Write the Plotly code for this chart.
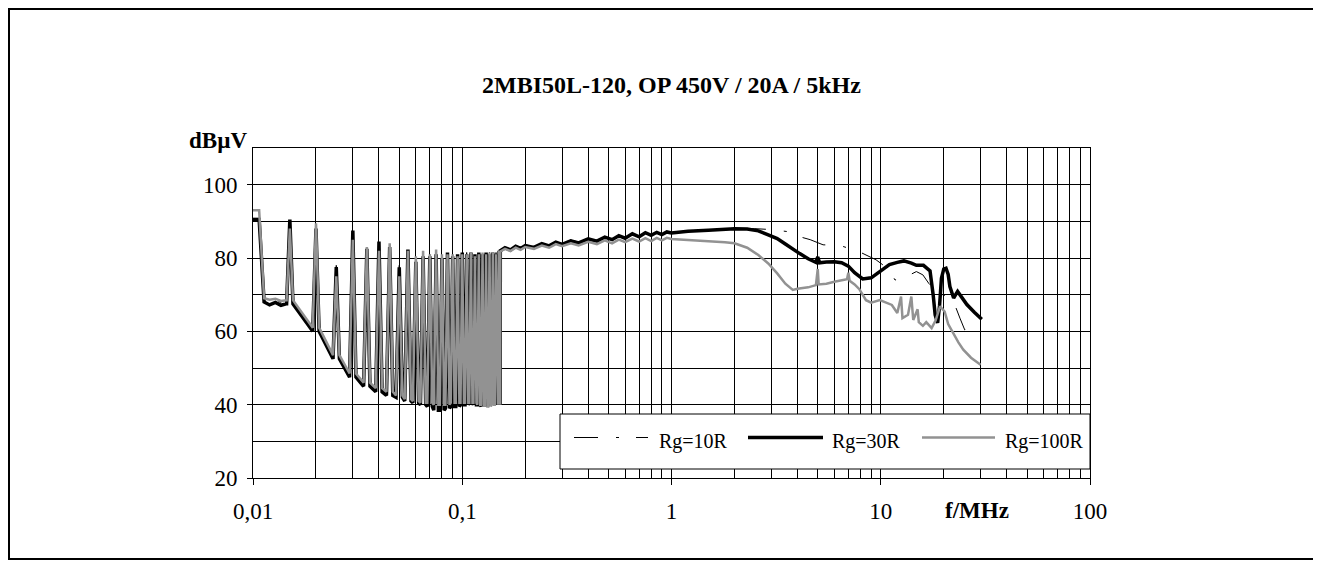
import plotly.graph_objects as go

# ---------------- data ----------------
title_text = "2MBI50L-120, OP 450V / 20A / 5kHz"
y_title = "dBµV"
x_title = "f/MHz"
x_tickvals = [0.01, 0.1, 1, 10, 100]
x_ticktext = ["0,01", "0,1", "1", "10", "100"]
y_tickvals = [20, 40, 60, 80, 100]
y_minor = [30, 50, 70, 90, 110]
series_names = ["Rg=10R", "Rg=30R", "Rg=100R"]

# initial plateau (MHz, dBµV)
start_f = [0.0100, 0.0107, 0.0113, 0.0120, 0.0128, 0.0136, 0.0144]
start_10 = [90.8, 90.8, 68.3, 67.8, 68.4, 67.9, 68.0]
start_30 = [90.5, 90.5, 68.0, 67.2, 67.9, 67.1, 67.5]
start_100 = [93.0, 93.0, 69.0, 68.6, 68.9, 68.3, 68.5]

# switching harmonics (kHz) with peak and floor levels
harm_khz = [15, 20, 25, 30, 35, 40, 45, 50, 55, 60, 65, 70, 75, 80,
            85, 90, 95, 100, 105, 110, 115, 120, 125, 130, 135, 140, 145, 150]
peak_10 = [89.5, 88.5, 78.0, 86.5, 83.0, 84.0, 83.5, 78.0, 82.0, 80.0, 81.0, 81.0, 81.0, 80.5,
           81.0, 81.0, 81.0, 81.0, 81.5, 81.0, 81.5, 81.0, 81.5, 81.0, 81.5, 81.0, 81.5, 82.0]
low_10 = [68.0, 60.5, 53.0, 48.0, 45.5, 44.0, 43.0, 42.5, 41.5, 41.0, 40.5, 40.0, 39.5, 39.5,
          40.0, 40.0, 40.0, 40.5, 40.5, 40.5, 40.5, 40.0, 40.0, 40.0, 40.5, 40.5, 40.5, 40.5]
peak_30 = [90.5, 88.0, 77.5, 87.5, 82.5, 84.5, 83.0, 77.5, 82.3, 79.0, 80.5, 80.5, 81.0, 80.0,
           81.5, 80.5, 81.0, 81.5, 81.0, 81.5, 81.0, 81.5, 81.0, 81.5, 81.0, 81.5, 81.0, 82.0]
low_30 = [67.5, 60.0, 52.5, 47.5, 45.0, 43.5, 42.5, 42.0, 41.0, 40.5, 40.0, 39.5, 38.5, 38.5,
          39.0, 39.5, 39.5, 40.0, 40.0, 40.5, 40.0, 40.0, 39.5, 39.5, 40.0, 40.0, 40.0, 40.0]
peak_100 = [88.0, 89.5, 75.0, 85.0, 83.0, 82.0, 84.0, 75.0, 82.0, 80.5, 82.0, 81.0, 82.3, 81.0,
            81.0, 81.0, 80.5, 81.0, 81.0, 81.5, 80.5, 81.0, 81.5, 81.0, 81.5, 81.5, 81.0, 82.0]
low_100 = [68.5, 61.0, 53.5, 48.5, 46.0, 44.5, 43.5, 42.5, 41.5, 41.0, 40.5, 40.5, 40.0, 40.0,
           40.0, 40.5, 40.5, 40.5, 40.5, 40.5, 40.5, 40.0, 40.0, 39.5, 39.5, 40.0, 40.0, 40.0]

# broadband part (MHz, dBµV)
hf_f_10 = [0.152, 0.16, 0.17, 0.18, 0.19, 0.2, 0.22, 0.24, 0.26, 0.28, 0.3, 0.33, 0.36, 0.4,
           0.44, 0.48, 0.52, 0.56, 0.6, 0.65, 0.7, 0.75, 0.8, 0.85, 0.9, 0.95, 1.0, 1.5, 2.0,
           2.5, 2.9, 3.6, 4.1, 4.6, 5.3, 6.4, 7.9, 9.5, 11.0, 11.7, 12.9, 14.8, 15.9, 17.0,
           18.5, 20.0, 22.6, 23.9, 25.2, 28.2, 30.0]
hf_db_10 = [82.2, 83.0, 82.4, 83.4, 82.8, 83.6, 83.1, 84.1, 83.5, 84.5, 83.9, 84.9, 84.3, 85.4,
            84.8, 85.9, 85.2, 86.3, 85.6, 86.8, 86.0, 87.0, 86.4, 87.1, 86.6, 87.2, 87.0, 87.6, 88.0,
            88.0, 87.8, 87.2, 85.8, 85.0, 83.6, 83.4, 81.7, 79.5, 76.8, 74.0, 74.6, 76.3, 75.4, 73.0,
            70.0, 70.0, 67.2, 63.6, 60.4, 61.8, 63.0]
hf_f_30 = [0.152, 0.16, 0.17, 0.18, 0.19, 0.2, 0.22, 0.24, 0.26, 0.28, 0.3, 0.33, 0.36, 0.4,
           0.44, 0.48, 0.52, 0.56, 0.6, 0.65, 0.7, 0.75, 0.8, 0.85, 0.9, 0.95, 1.0, 1.2, 1.5,
           1.8, 2.0, 2.3, 2.6, 2.9, 3.2, 3.5, 3.8, 4.1, 4.5, 4.9, 5.0, 5.1, 5.5, 6.0, 6.5, 7.0,
           7.5, 8.2, 9.0, 10.0, 11.0, 12.0, 12.9, 14.0, 14.8, 16.0, 17.2, 17.8, 18.2, 18.7,
           19.1, 19.5, 20.0, 20.5, 21.0, 21.4, 22.3, 23.3, 24.5, 25.8, 28.0, 30.4]
hf_db_30 = [82.0, 82.8, 82.2, 83.2, 82.6, 83.4, 82.9, 83.9, 83.3, 84.3, 83.7, 84.7, 84.1, 85.2,
            84.6, 85.7, 85.0, 86.1, 85.4, 86.6, 85.8, 86.9, 86.2, 87.0, 86.4, 87.1, 86.8, 87.3, 87.6,
            87.9, 88.0, 87.9, 87.4, 86.3, 85.3, 83.8, 82.3, 81.2, 79.8, 78.8, 80.3, 78.7, 78.9, 79.0,
            78.7, 77.8, 76.0, 74.3, 74.6, 76.5, 78.2, 78.8, 79.2, 78.6, 78.0, 78.0, 76.5, 70.0, 64.5,
            62.3, 67.0, 74.5, 77.0, 77.2, 75.5, 72.2, 69.1, 70.9, 69.3, 67.3, 65.2, 63.3]
hf_f_100 = [0.152, 0.16, 0.17, 0.18, 0.19, 0.2, 0.22, 0.24, 0.26, 0.28, 0.3, 0.33, 0.36, 0.4,
            0.44, 0.48, 0.52, 0.56, 0.6, 0.65, 0.7, 0.75, 0.8, 0.85, 0.9, 0.95, 1.0, 1.2, 1.5,
            1.8, 2.0, 2.3, 2.6, 2.9, 3.2, 3.5, 3.8, 4.0, 4.5, 4.9, 5.0, 5.05, 5.5, 6.0, 6.5, 6.9,
            7.0, 7.1, 7.5, 7.9, 8.5, 9.0, 9.9, 10.5, 11.3, 12.0, 12.5, 12.7, 13.5, 14.0, 14.3,
            15.0, 15.2, 15.9, 16.5, 17.5, 18.3, 19.2, 20.2, 21.0, 22.2, 23.5, 24.8, 27.0, 30.0]
hf_db_100 = [81.8, 82.5, 81.9, 82.8, 82.2, 83.0, 82.5, 83.4, 82.8, 83.8, 83.2, 84.0, 83.4, 84.4,
             83.8, 84.8, 84.0, 85.0, 84.3, 85.3, 84.5, 85.4, 84.6, 85.5, 84.8, 85.5, 85.2, 85.0, 84.6,
             84.3, 84.0, 82.8, 80.8, 78.5, 75.8, 73.0, 71.3, 71.6, 72.0, 72.6, 77.0, 72.8, 73.0, 73.5,
             73.8, 74.2, 76.0, 73.8, 72.8, 71.5, 68.5, 67.8, 68.5, 68.0, 67.2, 65.0, 69.5, 63.6, 64.5,
             69.5, 63.1, 66.0, 62.5, 61.5, 62.5, 60.9, 63.0, 66.8, 65.4, 62.0, 59.5, 57.0, 55.0, 52.8,
             50.9]

# ---------------- layout geometry (screen pixels) ----------------
OFF = 8                      # page body margin
W, H = 1321 - OFF, 565 - OFF
PL, PR, PT, PB = 253, 1090, 148, 478   # plot area edges on screen
FONT = "Liberation Serif, Times New Roman, serif"


def px(xp):
    return (xp - PL) / (PR - PL)


def py(yp):
    return (PB - yp) / (PB - PT)


def build(sf, sdb, peaks, lows, hf, hdb):
    xs, ys = list(sf), list(sdb)
    for h, p, lo in zip(harm_khz, peaks, lows):
        f = h / 1000.0
        w = min(0.035 * f, 0.0019)
        xs += [f - w, f, f + w]
        ys += [lo, p, lo]
    xs += hf
    ys += hdb
    return xs, ys


x10, y10 = build(start_f, start_10, peak_10, low_10, hf_f_10, hf_db_10)
x30, y30 = build(start_f, start_30, peak_30, low_30, hf_f_30, hf_db_30)
x100, y100 = build(start_f, start_100, peak_100, low_100, hf_f_100, hf_db_100)

GRAY = "#929292"
DASH10 = "24px,18px,3px,17px"
fig = go.Figure()
fig.add_trace(go.Scatter(x=x30, y=y30, mode="lines", name=series_names[1],
                         line=dict(color="black", width=3.5)))
fig.add_trace(go.Scatter(x=x10, y=y10, mode="lines", name=series_names[0],
                         line=dict(color="black", width=1, dash=DASH10)))
fig.add_trace(go.Scatter(x=x100, y=y100, mode="lines", name=series_names[2],
                         line=dict(color=GRAY, width=2.5)))

x_minor = [m * 10 ** k for k in range(-2, 2) for m in range(2, 10)]

fig.update_xaxes(type="log", range=[-2, 2], tickvals=x_tickvals, ticktext=x_ticktext,
                 ticks="outside", ticklen=6, tickcolor="black", showgrid=True,
                 gridcolor="black", gridwidth=1, showline=True, linecolor="black",
                 linewidth=1, mirror=True, zeroline=False, ticklabelstandoff=6,
                 tickfont=dict(family=FONT, size=23, color="black"),
                 minor=dict(tickvals=x_minor, showgrid=True, gridcolor="black",
                            gridwidth=1, ticks=""))
fig.update_yaxes(range=[20, 110], tickvals=y_tickvals, ticks="outside", ticklen=5,
                 tickcolor="black", showgrid=True, gridcolor="black", gridwidth=1,
                 showline=True, linecolor="black", linewidth=1, mirror=True,
                 zeroline=False, ticklabelstandoff=5,
                 tickfont=dict(family=FONT, size=23, color="black"),
                 minor=dict(tickvals=y_minor, showgrid=True, gridcolor="black",
                            gridwidth=1, ticks=""))

shapes = [
    # outer frame
    dict(type="rect", xref="paper", yref="paper", x0=px(OFF + 1), x1=px(1316), y0=py(559), y1=py(OFF + 1),
         line=dict(color="black", width=2), fillcolor="rgba(0,0,0,0)", layer="above"),
    # legend box
    dict(type="rect", xref="paper", yref="paper", x0=px(560), x1=px(1090), y0=py(469), y1=py(414),
         line=dict(color="black", width=1), fillcolor="white", layer="above"),
    dict(type="line", xref="paper", yref="paper", x0=px(574), x1=px(648), y0=py(437.5), y1=py(437.5),
         line=dict(color="black", width=1, dash=DASH10), layer="above"),
    dict(type="line", xref="paper", yref="paper", x0=px(748), x1=px(823), y0=py(437.5), y1=py(437.5),
         line=dict(color="black", width=3.5), layer="above"),
    dict(type="line", xref="paper", yref="paper", x0=px(922), x1=px(995), y0=py(437.5), y1=py(437.5),
         line=dict(color=GRAY, width=2.5), layer="above"),
]

annotations = [
    dict(text="<b>" + title_text + "</b>", x=px(671), y=py(85), xref="paper", yref="paper",
         showarrow=False, xanchor="center", yanchor="middle",
         font=dict(family=FONT, size=24, color="black")),
    dict(text="<b>" + y_title + "</b>", x=px(249), y=py(140), xref="paper", yref="paper",
         showarrow=False, xanchor="right", yanchor="middle",
         font=dict(family=FONT, size=23, color="black")),
    dict(text="<b>" + x_title + "</b>", x=px(977), y=py(510), xref="paper", yref="paper",
         showarrow=False, xanchor="center", yanchor="middle",
         font=dict(family=FONT, size=23, color="black")),
]
for name, xl in zip(series_names, [657, 830, 1003]):
    annotations.append(dict(text=name, x=px(xl), y=py(441), xref="paper", yref="paper",
                            showarrow=False, xanchor="left", yanchor="middle",
                            font=dict(family=FONT, size=20, color="black")))

fig.update_layout(width=W, height=H, autosize=False,
                  margin=dict(l=PL - OFF, r=W - (PR - OFF), t=PT - OFF, b=H - (PB - OFF), pad=0),
                  paper_bgcolor="white", plot_bgcolor="white", showlegend=False,
                  shapes=shapes, annotations=annotations)

fig.write_html("out.html")
